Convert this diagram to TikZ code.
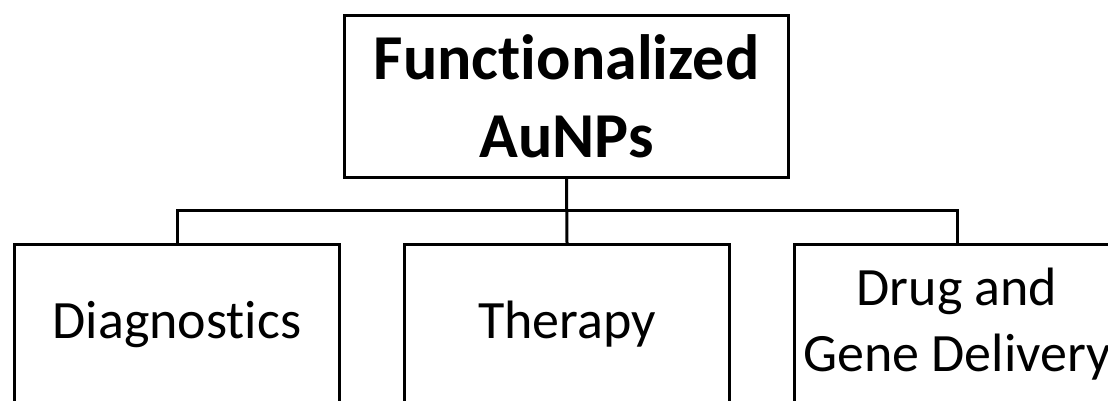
\documentclass[tikz,border=0pt]{standalone}
\usepackage{fontspec}
\setmainfont[Ligatures={NoCommon}]{Carlito}
\begin{document}
\begin{tikzpicture}[x=1pt,y=-1pt,
  box/.style={draw=black,line width=3pt,fill=white,inner sep=0pt,align=center,anchor=north west},
  headbox/.style={box,minimum width=444pt,minimum height=162pt,
    font=\fontsize{64}{78}\selectfont\bfseries},
  leafbox/.style={box,minimum width=325pt,minimum height=160pt,
    font=\fontsize{54}{66}\selectfont},
  link/.style={draw=black,line width=3pt}]
  \useasboundingbox (0,0) rectangle (1108,400);
  \begin{scope}
    \clip (0,0) rectangle (1108,400);
    % root and three branches
    \node[headbox] (root) at (343,14) {Functionalized\\AuNPs};
    \node[leafbox] (diag) at (13,243) {Diagnostics};
    \node[leafbox] (ther) at (403,243) {Therapy};
    \node[leafbox] (drug) at (793,243) {Drug and\\Gene Delivery};
    % tree connectors
    \coordinate (bus) at (565,210);
    \draw[link] (root.south) -- (ther.north);
    \draw[link] (diag.north) |- (bus) -| (drug.north);
  \end{scope}
\end{tikzpicture}
\end{document}
